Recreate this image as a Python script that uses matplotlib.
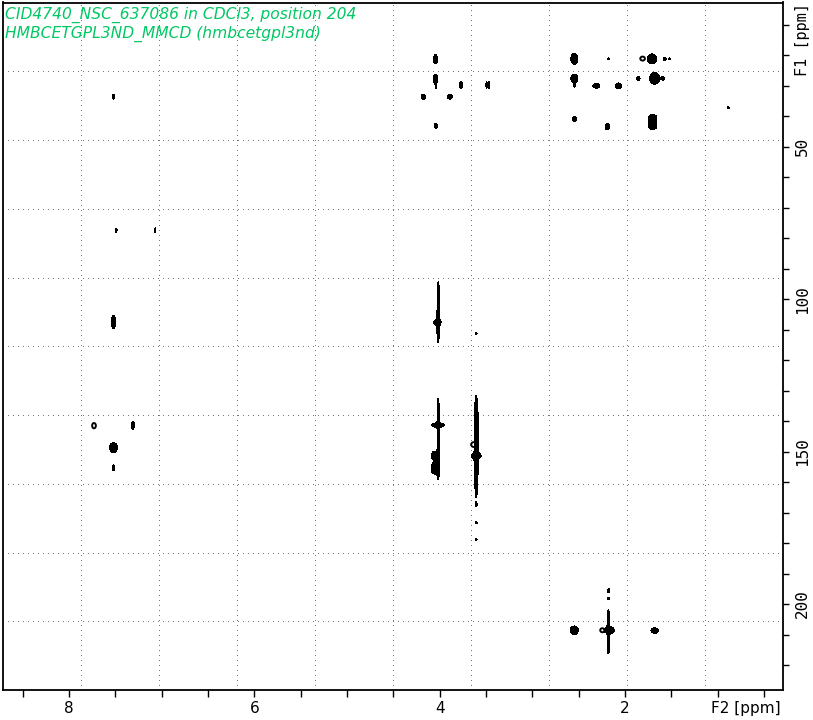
import numpy as np
import matplotlib
matplotlib.use("Agg")
import matplotlib.pyplot as plt
from matplotlib.ticker import MultipleLocator, FixedLocator

# ---------------- data (ppm) ----------------
title_lines = ["CID4740_NSC_637086 in CDCl3, position 204",
               "HMBCETGPL3ND_MMCD (hmbcetgpl3nd)"]

# solid cross peaks: F2 (1H) centre, F1 (13C) centre, F2 half-width, F1 half-width
peak_f2 = [4.045, 4.045, 3.77, 3.493, 3.467, 4.175, 3.89, 4.04, 7.52,
           2.547, 2.18, 1.708, 1.57, 1.52, 2.547, 2.31, 2.07, 1.855, 1.68, 1.59,
           2.547, 2.19, 0.885,
           7.49, 7.07, 7.52, 7.31, 7.52, 7.52,
           4.025, 3.606, 4.02, 4.05, 4.05, 3.606, 3.606, 3.606, 3.606,
           2.547, 2.177, 2.18, 2.17, 1.68]
peak_f1 = [21.3, 27.8, 29.75, 29.75, 29.75, 33.6, 33.6, 43.2, 33.6,
           21.2, 21.2, 21.2, 21.2, 21.2, 27.6, 30.0, 30.0, 27.6, 27.6, 27.6,
           40.9, 43.4, 37.2,
           77.4, 77.4, 107.5, 141.4, 148.7, 155.3,
           107.6, 111.2, 141.3, 151.3, 155.5, 151.4, 167.3, 173.3, 178.8,
           208.6, 195.6, 198.2, 208.6, 208.7]
peak_w2 = [0.022, 0.024, 0.017, 0.008, 0.008, 0.025, 0.027, 0.020, 0.013,
           0.038, 0.010, 0.049, 0.016, 0.011, 0.038, 0.036, 0.035, 0.017, 0.054, 0.020,
           0.025, 0.025, 0.011,
           0.009, 0.009, 0.023, 0.016, 0.043, 0.011,
           0.040, 0.010, 0.068, 0.038, 0.043, 0.054, 0.010, 0.010, 0.010,
           0.043, 0.013, 0.010, 0.054, 0.040]
peak_w1 = [1.5, 1.6, 1.1, 1.1, 1.1, 0.8, 0.8, 0.8, 0.8,
           1.8, 0.33, 1.64, 0.5, 0.33, 1.4, 0.8, 0.9, 0.8, 1.9, 0.5,
           0.8, 1.1, 0.33,
           0.75, 0.75, 2.3, 1.25, 1.64, 0.93,
           0.8, 0.33, 0.76, 1.48, 1.9, 1.05, 0.65, 0.4, 0.4,
           1.4, 0.65, 0.35, 1.2, 0.9]

# t1-noise streaks / elongated peaks: F2 position, F1 start, F1 end, F2 half-width
streak_f2 = [4.04, 2.545, 1.70, 4.016, 4.016, 4.016, 3.606, 3.606, 2.18]
streak_start = [27.0, 28.5, 39.5, 94.3, 104.0, 132.5, 131.4, 135.3, 201.9]
streak_end = [31.0, 30.6, 44.3, 114.3, 111.0, 159.3, 165.2, 159.3, 216.4]
streak_w2 = [0.006, 0.006, 0.045, 0.011, 0.016, 0.011, 0.014, 0.018, 0.011]

# weak peaks drawn as open contours
open_f2 = [1.81, 7.73, 3.63, 2.245]
open_f1 = [21.1, 141.5, 147.7, 208.6]
open_w2 = [0.025, 0.020, 0.030, 0.022]
open_w1 = [0.65, 0.87, 0.8, 0.66]

x_major = [8, 6, 4, 2]
y_major = [50, 100, 150, 200]
xlim = (8.712, 0.295)
ylim = (228.2, 2.7)

# ---------------- build spectrum field ----------------
xs = np.linspace(xlim[1], xlim[0], 1800)
ys = np.linspace(ylim[1], ylim[0], 1500)
Z = np.zeros((ys.size, xs.size))
for x0, y0, w2, w1 in zip(peak_f2, peak_f1, peak_w2, peak_w1):
    gx = np.exp(-((xs - x0) / w2) ** 2)
    gy = np.exp(-((ys - y0) / w1) ** 2)
    Z += np.outer(gy, gx)
for x0, a, b, w2 in zip(streak_f2, streak_start, streak_end, streak_w2):
    c, h = 0.5 * (a + b), 0.5 * (b - a)
    gx = np.exp(-((xs - x0) / w2) ** 2)
    gy = np.exp(-((ys - c) / h) ** 8)
    Z += np.outer(gy, gx)
Z2 = np.zeros_like(Z)
for x0, y0, w2, w1 in zip(open_f2, open_f1, open_w2, open_w1):
    gx = np.exp(-((xs - x0) / w2) ** 2)
    gy = np.exp(-((ys - y0) / w1) ** 2)
    Z2 += np.outer(gy, gx)

level = np.exp(-1.0)

# ---------------- figure ----------------
W, H = 813, 720
fig = plt.figure(figsize=(W / 100, H / 100), dpi=100)
ax = fig.add_axes([3 / W, 30 / H, 780 / W, 687.5 / H])
ax.set_xlim(*xlim)
ax.set_ylim(*ylim)

# grid: 10 equal divisions, sparse dots
for k in range(1, 10):
    f = k / 10
    ax.plot([f, f], [0, 1], transform=ax.transAxes, color="#777777",
            lw=0.72, dashes=(1, 5), antialiased=False, zorder=1)
    ax.plot([0, 1], [f, f], transform=ax.transAxes, color="#777777",
            lw=0.72, dashes=(1, 5), antialiased=False, zorder=1)

ax.contourf(xs, ys, Z, levels=[level, Z.max() + 10], colors="black", zorder=3)
ax.contour(xs, ys, Z2, levels=[level], colors="black", linewidths=1.4, zorder=3)

for s in ax.spines.values():
    s.set_linewidth(1.3)
    s.set_color("black")

ax.xaxis.set_major_locator(FixedLocator(x_major))
ax.xaxis.set_minor_locator(MultipleLocator(0.5))
ax.yaxis.set_major_locator(FixedLocator(y_major))
ax.yaxis.set_minor_locator(MultipleLocator(10))
ax.yaxis.tick_right()
ax.tick_params(axis="x", which="both", direction="out", length=5, width=1,
               pad=3, labelsize=11, top=False)
ax.tick_params(axis="y", which="both", direction="out", length=4.5, width=1,
               pad=4, labelsize=11.5, left=False, right=True)
for lab in ax.get_yticklabels():
    lab.set_rotation(90)
    lab.set_va("center")
    lab.set_family("DejaVu Sans Mono")
ax.set_xticklabels([str(v) for v in x_major])

fig.text(746 / W, 1 - 709 / H, "F2 [ppm]", ha="center", va="center", fontsize=11)
fig.text(802 / W, 1 - 40 / H, "F1 [ppm]", ha="center", va="center", fontsize=11,
         rotation=90, family="DejaVu Sans Mono")

ax.text(2 / 780, 1 - 4 / 687.5, title_lines[0] + "\n" + title_lines[1],
        transform=ax.transAxes, ha="left", va="top", fontsize=11.2,
        style="italic", color="#00c864", linespacing=1.22, zorder=5)

fig.savefig("out.png", dpi=100)
